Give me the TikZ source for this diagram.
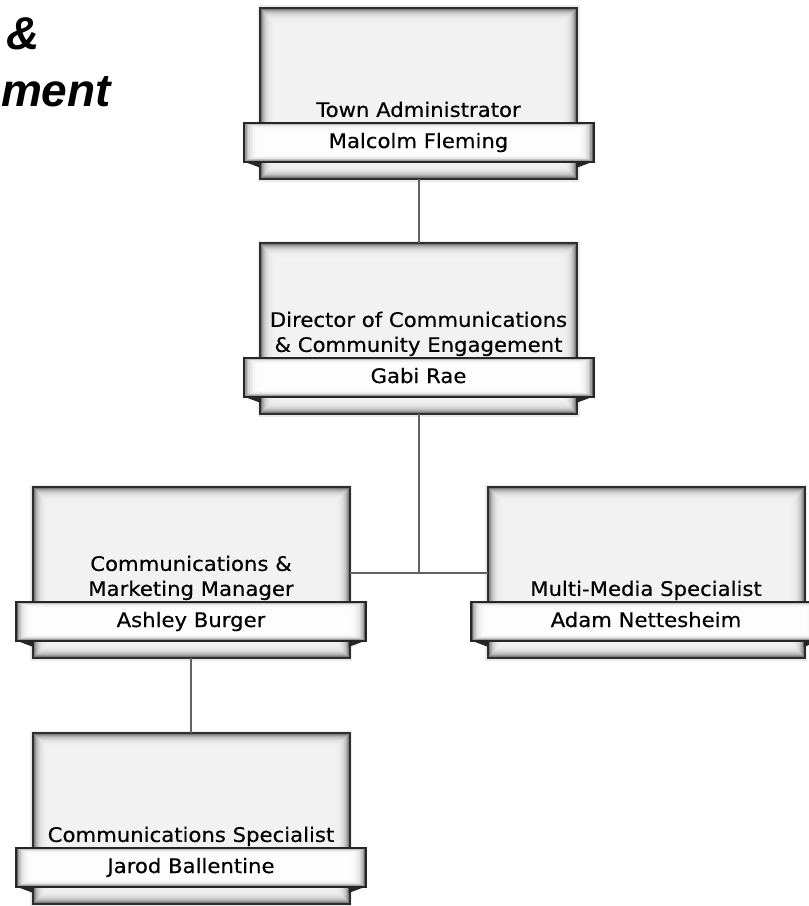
\documentclass[tikz,border=0pt]{standalone}
\usepackage{fontspec}
\newfontfamily\namefont[FakeStretch=1.06,FakeBold=0.35]{DejaVu Sans}
\newfontfamily\headfont{Liberation Sans}
\tikzset{
  outerbox/.style={rectangle, inner sep=0pt, outer sep=0pt,
    minimum width=237.75pt, minimum height=128.25pt,
    draw=black!82, line width=1.5pt, fill=black!4,
    path picture={
      \foreach \i in {0,...,15}{
        \pgfmathsetmacro\g{4+62*exp(-\i/3.6)}
        \fill[black!\g!white] ([shift={(\i,\i)}]path picture bounding box.north west)
          rectangle ([shift={(-\i,-\i)}]path picture bounding box.south east);
      }}},
  bandbox/.style={rectangle, inner sep=0pt, outer sep=0pt,
    minimum width=262.5pt, minimum height=29.25pt,
    text height=9pt, text depth=0pt,
    draw=black!85, line width=1.5pt, fill=white,
    font=\namefont\fontsize{15}{18.75}\selectfont,
    path picture={
      \foreach \i in {0,...,10}{
        \pgfmathsetmacro\g{60*exp(-\i/2.2)}
        \fill[black!\g!white] ([shift={(1.6*\i,0.7*\i)}]path picture bounding box.north west)
          rectangle ([shift={(-1.6*\i,-0.7*\i)}]path picture bounding box.south east);
      }}},
  titletext/.style={inner sep=0pt, outer sep=0pt, anchor=south, align=center,
    font=\namefont\fontsize{15}{18.75}\selectfont},
  tab/.style={fill=black!85},
  halo/.style={fill=black!8},
  link/.style={draw=black!62, line width=1.5pt},
  headtext/.style={inner sep=0pt, outer sep=0pt, font=\headfont\bfseries\itshape\fontsize{34.5}{40}\selectfont}
}
\newcommand\orgunit[5]{% id, cx, top, title, person
  \fill[halo] (#2-161,#3-2.5) rectangle (#2+161,#3+174);
  \node[outerbox] (#1) at (#2,#3+85.5) {};
  \node[bandbox] (#1n) at (#2,#3+134) {#5};
  \fill[tab] (#1n.south west) -- ++(17.5,0) -- ++(0,6.5) -- cycle;
  \fill[tab] (#1n.south east) -- ++(-17.5,0) -- ++(0,6.5) -- cycle;
  \node[titletext] (#1t) at (#2,#3+114.5) {#4\rule[-4.2pt]{0pt}{1pt}};
}
\begin{document}
\begin{tikzpicture}[x=0.75pt,y=-0.75pt]
\useasboundingbox (0,0) rectangle (808,906);
\fill[white] (0,0) rectangle (808,906);

\node[headtext, anchor=base west] (h1) at (7,50) {\&};
\node[headtext, anchor=base east] (h2) at (111,107) {ment};

\orgunit{ta}{418.5}{8}{Town Administrator}{Malcolm Fleming}
\orgunit{dir}{418.5}{243}{Director of Communications\\\& Community Engagement}{Gabi Rae}
\orgunit{cm}{191}{487}{Communications \&\\Marketing Manager}{Ashley Burger}
\orgunit{mm}{646}{487}{Multi-Media Specialist}{Adam Nettesheim}
\orgunit{cs}{191}{733}{Communications Specialist}{Jarod Ballentine}

\draw[link] (ta.south) -- (dir.north);
\draw[link] (dir.south) |- (cm.east);
\draw[link] (dir.south) |- (mm.west);
\draw[link] (cm.south) -- (cs.north);
\end{tikzpicture}
\end{document}
